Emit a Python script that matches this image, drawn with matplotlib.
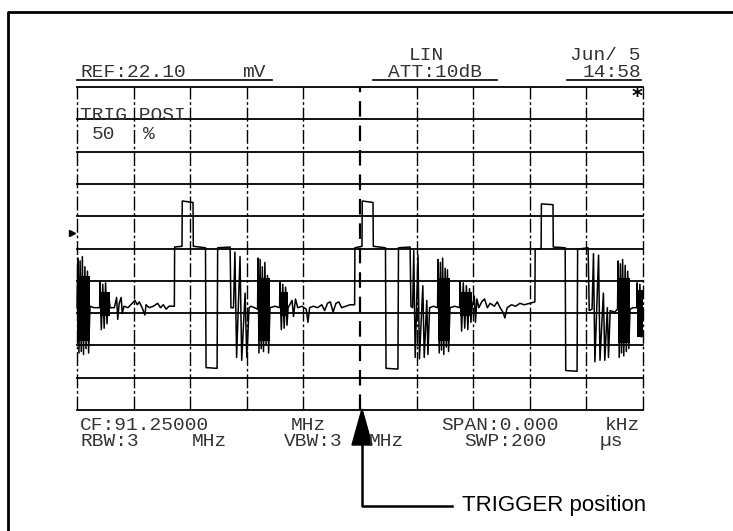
import matplotlib
matplotlib.use("Agg")
import matplotlib.pyplot as plt
from matplotlib.lines import Line2D
from matplotlib.patches import Polygon

W, H = 733, 531

# screen scale: linear, REF 22.10 mV at top, 200 us sweep, 10 x 10 divisions
ref_mv = 22.10
sweep_us = 200.0
n_div = 10
trigger_us = 100.0

# trace (time in us, level in mV)
line1 = [
    (0.0, 7.0), (0.3, 10.4), (0.7, 3.9), (1.1, 10.2), (1.5, 4.0), (1.9, 10.5),
    (2.3, 3.8), (2.8, 9.8), (3.2, 4.2), (3.7, 9.5), (4.1, 3.9), (4.6, 7.1),
    (6.0, 7.0), (8.0, 7.0),
    (8.1, 8.8), (8.6, 5.5), (9.1, 8.6), (9.6, 5.6), (10.1, 8.7), (10.6, 5.9),
    (11.1, 8.0), (11.7, 7.0),
    (13.2, 7.0), (14.0, 7.7), (14.4, 6.2), (14.9, 7.3), (15.6, 7.7), (16.0, 6.6),
    (16.6, 7.1), (18.0, 7.0), (19.5, 7.3), (20.5, 7.5), (21.3, 7.2), (22.0, 7.4),
    (23.0, 7.0), (24.0, 6.5), (24.4, 7.2), (25.5, 7.0), (27.0, 7.1), (28.5, 7.3),
    (29.5, 7.0), (30.5, 7.2), (31.5, 6.9), (32.5, 7.1), (34.4, 7.1),
]
line2 = [
    (34.5, 11.15), (37.1, 11.2), (37.2, 14.3), (41.0, 14.2), (41.1, 11.2),
    (45.4, 11.1), (45.6, 2.9), (49.5, 2.85), (49.7, 11.1), (54.1, 11.15),
    (54.4, 7.0), (55.3, 7.0), (55.8, 10.8), (56.4, 3.6), (57.6, 10.5), (58.2, 3.4),
    (59.4, 8.0), (60.0, 3.6), (60.8, 7.0), (61.5, 7.1), (63.8, 6.9),
    (64.0, 10.4), (64.3, 3.9), (64.7, 10.3), (65.1, 4.2), (65.5, 9.8), (65.9, 4.0),
    (66.4, 10.1), (66.8, 4.5), (67.3, 9.2), (67.7, 3.9), (68.2, 7.0),
    (70.0, 7.1), (71.6, 7.0),
    (71.7, 8.8), (72.2, 5.5), (72.7, 8.6), (73.2, 5.6), (73.7, 8.4), (74.2, 5.8),
    (74.6, 7.0),
    (76.0, 7.5), (76.5, 6.4), (77.2, 7.6), (78.0, 7.0), (79.5, 7.1), (81.0, 6.9),
    (81.6, 6.0), (82.2, 7.0), (83.5, 7.1), (85.0, 7.0), (86.5, 7.2), (87.5, 6.8),
    (88.5, 7.3), (89.5, 7.4), (90.5, 6.7), (91.5, 7.3), (92.5, 7.4), (93.5, 7.0),
    (95.0, 7.1), (96.5, 7.2), (98.1, 7.2),
]
line3 = [
    (98.2, 11.1), (100.7, 11.2), (100.8, 14.3), (104.6, 14.2), (104.7, 11.2),
    (109.0, 11.1), (109.2, 2.85), (113.4, 2.8), (113.6, 11.1), (117.7, 11.15),
    (118.0, 7.1), (118.6, 7.0), (119.0, 10.9), (119.5, 3.6), (120.5, 10.6),
    (121.0, 3.5), (122.2, 8.5), (122.7, 3.6), (123.6, 7.5), (124.0, 3.8),
    (124.6, 7.0), (126.0, 7.1), (127.4, 7.0),
    (127.6, 10.3), (128.0, 3.9), (128.4, 10.1), (128.8, 4.1), (129.2, 10.4),
    (129.6, 3.8), (130.1, 9.7), (130.5, 4.3), (130.9, 9.6), (131.3, 4.0),
    (131.8, 7.0), (133.5, 7.1), (135.2, 7.0),
    (135.4, 8.8), (135.9, 5.4), (136.5, 8.7), (137.0, 5.6), (137.6, 8.5),
    (138.1, 5.5), (138.7, 8.3), (139.2, 6.0), (139.6, 7.0),
    (140.4, 7.8), (140.8, 6.0), (141.3, 7.6), (142.0, 7.0), (143.0, 7.4),
    (144.0, 7.6), (145.0, 7.0), (146.0, 7.3), (147.5, 7.1), (148.5, 7.4),
    (149.5, 7.0), (150.5, 6.7), (151.2, 6.3), (152.0, 7.0), (153.5, 7.2),
    (155.0, 7.1), (156.5, 7.3), (158.0, 7.2), (160.0, 7.3), (161.8, 7.4),
]
line4 = [
    (161.9, 11.0), (164.0, 11.05), (164.1, 14.1), (168.2, 14.05), (168.3, 11.15),
    (172.5, 11.1), (172.7, 2.7), (176.7, 2.65), (176.9, 11.0), (180.6, 11.1),
    (181.0, 6.8), (182.0, 6.9), (182.5, 10.7), (183.0, 3.3), (184.3, 10.6),
    (184.8, 3.4), (186.0, 8.0), (186.5, 3.4), (187.4, 7.0), (187.8, 3.6),
    (188.4, 6.8), (190.0, 6.7), (191.0, 6.9),
    (191.2, 10.2), (191.6, 3.6), (192.0, 10.0), (192.4, 3.9), (192.8, 10.3),
    (193.2, 3.7), (193.7, 9.9), (194.1, 4.0), (194.6, 9.5), (195.0, 4.2),
    (195.4, 6.9), (196.5, 7.0), (197.8, 7.0),
    (197.9, 8.7), (198.4, 5.3), (198.9, 8.6), (199.4, 5.0), (200.0, 7.0),
]

# dense colour-burst / chroma packets (start us, end us, low mV, high mV)
bursts = [
    (0.0, 4.6, 4.7, 9.2), (8.1, 11.7, 6.4, 8.1),
    (64.0, 68.2, 4.7, 9.0), (71.7, 74.6, 6.4, 8.1),
    (127.6, 131.8, 4.7, 9.0), (135.4, 139.6, 6.4, 8.1),
    (191.2, 195.4, 4.6, 9.0), (197.9, 200.0, 5.0, 8.2),
]

ref_marker_mv = 12.1

screen_top = [
    ("REF:22.10", 80, 77, "left"), ("mV", 242, 77, "left"),
    ("LIN", 426, 60, "center"), ("ATT:10dB", 435, 77, "center"),
    ("Jun/ 5", 641, 60, "right"), ("14:58", 641, 77, "right"),
    ("TRIG POSI", 80, 120, "left"), ("50", 92, 139, "left"), ("%", 143, 139, "left"),
]
screen_bottom = [
    ("CF:91.25000", 80, 430, "left"), ("MHz", 308, 430, "center"),
    ("SPAN:0.000", 500, 430, "center"), ("kHz", 640, 430, "right"),
    ("RBW:3", 80, 446, "left"), ("MHz", 209, 446, "center"),
    ("VBW:3", 313, 446, "center"), ("MHz", 369, 446, "left"),
    ("SWP:200", 505, 446, "center"), ("µs", 611, 446, "center"),
]
underlines = [(77, 272), (373, 497), (567, 641)]


def fx(x):
    return x / W


def fy(y):
    return 1 - y / H


fig = plt.figure(figsize=(W / 100, H / 100), dpi=100)
fig.patch.set_facecolor("white")

ax = fig.add_axes([fx(77), fy(410), 566 / W, 323 / H])
ax.set_xlim(0, sweep_us)
ax.set_ylim(0, ref_mv)
ax.axis("off")

# graticule
for i in range(n_div + 1):
    yv = ref_mv * i / n_div
    ax.axhline(yv, color="black", lw=1.3, clip_on=False, zorder=1)
for i in range(n_div + 1):
    xv = sweep_us * i / n_div
    if xv == trigger_us:
        ax.axvline(xv, color="black", lw=1.6, ls=(0, (7, 4)), clip_on=False, zorder=1)
    else:
        ax.axvline(xv, color="black", lw=1.0, ls=(0, (10, 2, 2, 2)), clip_on=False, zorder=1)

# trace
pts = line1 + line2 + line3 + line4
t = [p[0] for p in pts]
v = [p[1] for p in pts]
for t0, t1, lo, hi in bursts:
    ax.fill_between([t0, t1], lo, hi, color="black", lw=0, zorder=2)
ax.plot(t, v, color="black", lw=1.1, zorder=3, clip_on=False)

# reference level marker at the left
ax.plot([-1.8], [ref_marker_mv], marker=">", color="black", ms=5, clip_on=False)

# screen annotation text
mono = dict(family="Liberation Mono", fontsize=14, color="#333333")
for s, x, y, ha in screen_top + screen_bottom:
    fig.text(fx(x), fy(y), s, ha=ha, va="baseline", **mono)
fig.text(fx(637), fy(97), "*", ha="center", va="center", family="DejaVu Sans",
         fontsize=15, fontweight="bold", color="black")
for x0, x1 in underlines:
    fig.add_artist(Line2D([fx(x0), fx(x1)], [fy(80), fy(80)], color="black", lw=1.2))

# trigger arrow
fig.add_artist(Polygon([[fx(362), fy(409)], [fx(352), fy(445)], [fx(372), fy(445)]],
                       closed=True, color="black"))
fig.add_artist(Line2D([fx(362), fx(362), fx(452)], [fy(445), fy(506), fy(506)],
                      color="black", lw=1.8))
fig.text(fx(462), fy(511), "TRIGGER position", ha="left", va="baseline",
         family="Liberation Sans", fontsize=16, color="black")

# outer frame (left and top edges)
fig.add_artist(Line2D([fx(8), fx(8), fx(733)], [fy(531), fy(12), fy(12)],
                      color="black", lw=2))

fig.savefig("out.png", dpi=100)
